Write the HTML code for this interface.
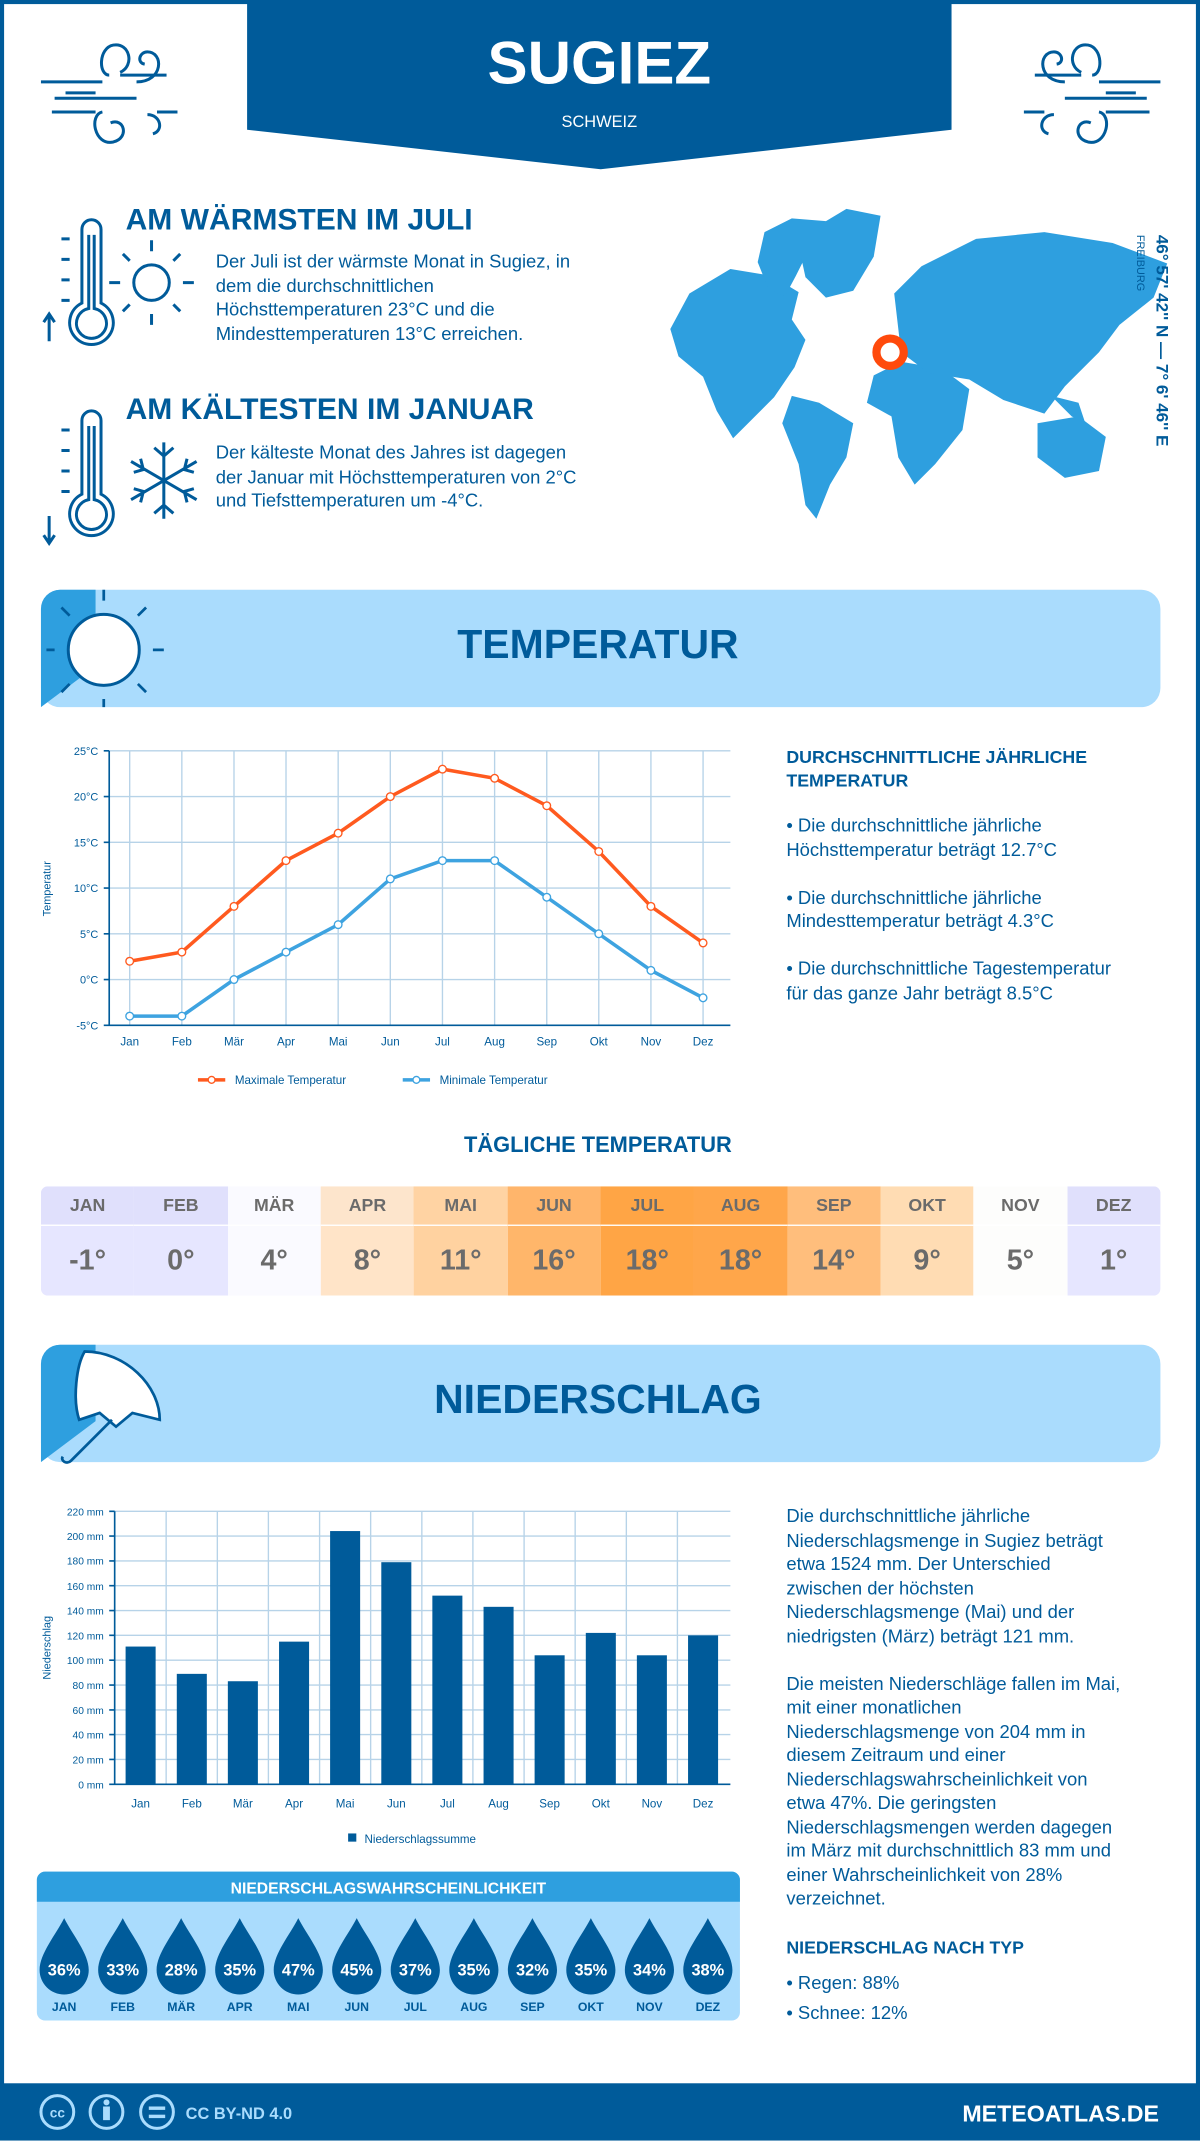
<!DOCTYPE html>
<html><head><meta charset="utf-8"><style>
html,body{margin:0;padding:0;background:#fff;}
body{width:1200px;height:2140px;overflow:hidden;position:relative;}
#w{position:absolute;left:0;top:0;width:879px;height:1568px;transform:scale(1.36519);transform-origin:0 0;font-family:"Liberation Sans",sans-serif;color:#005b9a;}
.a{position:absolute;}
.t{font-size:13.5px;line-height:17.5px;color:#005b9a;white-space:nowrap;}
</style></head><body><div id="w">
<svg class="a" style="left:0;top:0" width="879" height="1568" viewBox="0 0 879 1568">
<rect x="1.5" y="1.5" width="876" height="1565" fill="none" stroke="#005b9a" stroke-width="3"/>
<polygon points="181,0 697,0 697,95 440,124 181,95" fill="#005b9a"/>
<g fill="none" stroke="#005b9a" stroke-width="2.2">
<path d="M40,72 H100 M30,60 H75 M48,68 H70 M88,55 H122 M38,82 H70 M115,82 H130"/>
<path d="M80,55 c-8,0 -8,-20 3,-22 c12,-2 16,15 5,20"/>
<path d="M100,60 c20,0 20,-22 8,-22 c-6,0 -8,8 -2,9"/>
<path d="M75,82 c-10,2 -6,25 8,22 c12,-3 8,-18 -2,-14"/>
<path d="M108,84 c10,0 12,12 4,14"/>
<path d="M840,72 H780 M850,60 H805 M832,68 H810 M792,55 H758 M842,82 H810 M765,82 H750"/>
<path d="M800,55 c8,0 8,-20 -3,-22 c-12,-2 -16,15 -5,20"/>
<path d="M780,60 c-20,0 -20,-22 -8,-22 c6,0 8,8 2,9"/>
<path d="M805,82 c10,2 6,25 -8,22 c-12,-3 -8,-18 2,-14"/>
<path d="M772,84 c-10,0 -12,12 -4,14"/>
<path d="M60,168 a7,7 0 0 1 14,0 v54 a16,16 0 1 1 -14,0 z"/>
<path d="M65,172 v54 a11,11 0 1 0 4,0 v-54"/>
<path d="M45,175 h6 M45,190 h6 M45,205 h6 M45,220 h6 M36,230 v20 M32,236 l4,-6 4,6"/>
<circle cx="111" cy="207" r="13"/>
<path d="M111,184 v-8 M111,230 v8 M88,207 h-8 M134,207 h8 M95,191 l-5,-5 M127,191 l5,-5 M95,223 l-5,5 M127,223 l5,5"/>
<path d="M60,308 a7,7 0 0 1 14,0 v54 a16,16 0 1 1 -14,0 z"/>
<path d="M65,312 v54 a11,11 0 1 0 4,0 v-54"/>
<path d="M45,315 h6 M45,330 h6 M45,345 h6 M45,360 h6 M36,378 v20 M32,392 l4,6 4,-6"/>
<path d="M120,324 v56 M96,338 l48,28 M96,366 l48,-28 M113,328 l7,6 7,-6 M113,376 l7,-6 7,6 M98,346 l7,-2 -2,-8 M142,346 l-7,-2 2,-8 M98,358 l7,2 -2,8 M142,358 l-7,2 2,8"/>
</g>
<g fill="#2e9fdf">
<path d="M505,215 l30,-18 30,5 20,12 -5,20 10,15 -8,20 -15,22 -20,20 -10,10 -12,-20 -10,-25 -18,-15 -6,-20z"/>
<path d="M560,170 l20,-10 25,2 -12,20 -10,20 -8,15 -12,-5 -8,-20z"/>
<path d="M585,180 l15,-15 20,-12 25,5 -5,30 -15,25 -20,5 -15,-15z"/>
<path d="M580,290 l20,5 25,15 -5,25 -12,20 -10,25 -8,-10 -5,-30 -12,-30z"/>
<path d="M640,275 l20,-10 30,5 20,15 -5,30 -20,25 -15,15 -12,-20 -5,-30 -18,-10z"/>
<path d="M655,215 l20,-20 40,-20 50,-5 50,8 40,15 -10,25 -25,20 -15,20 -25,25 -15,20 -30,-10 -25,-15 -30,-5 -20,-15z"/>
<path d="M760,310 l30,-5 20,15 -5,25 -25,5 -20,-15z"/>
<path d="M770,290 l20,5 5,15 -10,-5z"/>
</g>
<circle cx="652" cy="258" r="10" fill="#fff" stroke="#ff4a0c" stroke-width="6"/>
<rect x="30" y="432" width="820" height="86" rx="14" fill="#aadcfd"/>
<path d="M30,446 a14,14 0 0 1 14,-14 h26 v56 l-40,30z" fill="#2e9fdf"/>
<circle cx="76" cy="476" r="26" fill="#fff" stroke="#005b9a" stroke-width="2.2"/>
<g stroke="#005b9a" stroke-width="2"><path d="M76,440 v-8 M112,476 h8 M101,451 l6,-6 M101,501 l6,6 M76,512 v6 M40,476 h-6 M51,451 l-6,-6 M51,501 l-6,6"/></g>
<rect x="30" y="985" width="820" height="86" rx="14" fill="#aadcfd"/>
<path d="M30,999 a14,14 0 0 1 14,-14 h26 v56 l-40,30z" fill="#2e9fdf"/>
<path d="M62,990 c30,0 55,25 55,50 l-20,-5 -12,10 -12,-10 -15,5 c-5,-15 -2,-40 4,-50z" fill="#fff" stroke="#005b9a" stroke-width="2"/>
<path d="M82,1040 l-30,30 c-3,3 -8,0 -6,-3" fill="none" stroke="#005b9a" stroke-width="2"/>
<g stroke="#b7d3e8" stroke-width="1">
<path d="M80,550H535M80,583.5H535M80,617H535M80,650.5H535M80,684H535M80,717.5H535"/>
<path d="M95,550V751M133.2,550V751M171.4,550V751M209.5,550V751M247.7,550V751M285.9,550V751M324.1,550V751M362.3,550V751M400.5,550V751M438.6,550V751M476.8,550V751M515,550V751"/>
</g>
<path d="M80,550V751H535 M76,550h4M76,583.5h4M76,617h4M76,650.5h4M76,684h4M76,717.5h4M76,751h4" stroke="#005b9a" stroke-width="1.2" fill="none"/>
<g font-size="8" fill="#005b9a" text-anchor="end">
<text x="72" y="553">25°C</text><text x="72" y="586.5">20°C</text><text x="72" y="620">15°C</text><text x="72" y="653.5">10°C</text><text x="72" y="687">5°C</text><text x="72" y="720.5">0°C</text><text x="72" y="754">-5°C</text>
</g>
<text transform="translate(37,651) rotate(-90)" font-size="8" fill="#005b9a" text-anchor="middle">Temperatur</text>
<g font-size="8.5" fill="#005b9a" text-anchor="middle">
<text x="95" y="766">Jan</text><text x="133.2" y="766">Feb</text><text x="171.4" y="766">Mär</text><text x="209.5" y="766">Apr</text><text x="247.7" y="766">Mai</text><text x="285.9" y="766">Jun</text><text x="324.1" y="766">Jul</text><text x="362.3" y="766">Aug</text><text x="400.5" y="766">Sep</text><text x="438.6" y="766">Okt</text><text x="476.8" y="766">Nov</text><text x="515" y="766">Dez</text>
</g>
<polyline points="95,704.1 133.2,697.4 171.4,663.9 209.5,630.4 247.7,610.3 285.9,583.5 324.1,563.4 362.3,570.1 400.5,590.2 438.6,623.7 476.8,663.9 515,690.7" fill="none" stroke="#ff5a1f" stroke-width="2.6"/>
<polyline points="95,744.3 133.2,744.3 171.4,717.5 209.5,697.4 247.7,677.3 285.9,643.8 324.1,630.4 362.3,630.4 400.5,657.2 438.6,684 476.8,710.8 515,730.9" fill="none" stroke="#3ea3e0" stroke-width="2.6"/>
<g fill="#fff" stroke="#ff5a1f" stroke-width="1">
<circle cx="95" cy="704.1" r="2.8"/><circle cx="133.2" cy="697.4" r="2.8"/><circle cx="171.4" cy="663.9" r="2.8"/><circle cx="209.5" cy="630.4" r="2.8"/><circle cx="247.7" cy="610.3" r="2.8"/><circle cx="285.9" cy="583.5" r="2.8"/><circle cx="324.1" cy="563.4" r="2.8"/><circle cx="362.3" cy="570.1" r="2.8"/><circle cx="400.5" cy="590.2" r="2.8"/><circle cx="438.6" cy="623.7" r="2.8"/><circle cx="476.8" cy="663.9" r="2.8"/><circle cx="515" cy="690.7" r="2.8"/>
</g>
<g fill="#fff" stroke="#3ea3e0" stroke-width="1">
<circle cx="95" cy="744.3" r="2.8"/><circle cx="133.2" cy="744.3" r="2.8"/><circle cx="171.4" cy="717.5" r="2.8"/><circle cx="209.5" cy="697.4" r="2.8"/><circle cx="247.7" cy="677.3" r="2.8"/><circle cx="285.9" cy="643.8" r="2.8"/><circle cx="324.1" cy="630.4" r="2.8"/><circle cx="362.3" cy="630.4" r="2.8"/><circle cx="400.5" cy="657.2" r="2.8"/><circle cx="438.6" cy="684" r="2.8"/><circle cx="476.8" cy="710.8" r="2.8"/><circle cx="515" cy="730.9" r="2.8"/>
</g>
<path d="M145,791h20" stroke="#ff5a1f" stroke-width="2.6"/><circle cx="155" cy="791" r="2.5" fill="#fff" stroke="#ff5a1f"/>
<text x="172" y="794" font-size="8.5" fill="#005b9a">Maximale Temperatur</text>
<path d="M295,791h20" stroke="#3ea3e0" stroke-width="2.6"/><circle cx="305" cy="791" r="2.5" fill="#fff" stroke="#3ea3e0"/>
<text x="322" y="794" font-size="8.5" fill="#005b9a">Minimale Temperatur</text>
<g stroke="#b7d3e8" stroke-width="1">
<path d="M84,1107H535M84,1125.2H535M84,1143.4H535M84,1161.5H535M84,1179.7H535M84,1197.9H535M84,1216.1H535M84,1234.3H535M84,1252.5H535M84,1270.6H535M84,1288.8H535"/>
<path d="M121.7,1107V1307M159.2,1107V1307M196.6,1107V1307M234.1,1107V1307M271.5,1107V1307M309,1107V1307M346.4,1107V1307M383.9,1107V1307M421.3,1107V1307M458.8,1107V1307M496.2,1107V1307"/>
</g>
<path d="M84,1107V1307H535M80,1107h4M80,1125.2h4M80,1143.4h4M80,1161.5h4M80,1179.7h4M80,1197.9h4M80,1216.1h4M80,1234.3h4M80,1252.5h4M80,1270.6h4M80,1288.8h4M80,1307h4" stroke="#005b9a" stroke-width="1.2" fill="none"/>
<g font-size="7.5" fill="#005b9a" text-anchor="end">
<text x="76" y="1110">220 mm</text><text x="76" y="1128">200 mm</text><text x="76" y="1146">180 mm</text><text x="76" y="1164.5">160 mm</text><text x="76" y="1182.7">140 mm</text><text x="76" y="1200.9">120 mm</text><text x="76" y="1219">100 mm</text><text x="76" y="1237.3">80 mm</text><text x="76" y="1255.5">60 mm</text><text x="76" y="1273.6">40 mm</text><text x="76" y="1291.8">20 mm</text><text x="76" y="1310">0 mm</text>
</g>
<text transform="translate(37,1207) rotate(-90)" font-size="8" fill="#005b9a" text-anchor="middle">Niederschlag</text>
<g fill="#005b9a">
<rect x="92" y="1206.1" width="22" height="100.9"/><rect x="129.5" y="1226.1" width="22" height="80.9"/><rect x="166.9" y="1231.5" width="22" height="75.5"/><rect x="204.4" y="1202.5" width="22" height="104.5"/><rect x="241.8" y="1121.5" width="22" height="185.5"/><rect x="279.3" y="1144.3" width="22" height="162.7"/><rect x="316.7" y="1168.8" width="22" height="138.2"/><rect x="354.2" y="1177" width="22" height="130"/><rect x="391.6" y="1212.5" width="22" height="94.5"/><rect x="429.1" y="1196.1" width="22" height="110.9"/><rect x="466.5" y="1212.5" width="22" height="94.5"/><rect x="504" y="1197.9" width="22" height="109.1"/>
</g>
<g font-size="8.5" fill="#005b9a" text-anchor="middle">
<text x="103" y="1324">Jan</text><text x="140.5" y="1324">Feb</text><text x="177.9" y="1324">Mär</text><text x="215.4" y="1324">Apr</text><text x="252.8" y="1324">Mai</text><text x="290.3" y="1324">Jun</text><text x="327.7" y="1324">Jul</text><text x="365.2" y="1324">Aug</text><text x="402.6" y="1324">Sep</text><text x="440.1" y="1324">Okt</text><text x="477.5" y="1324">Nov</text><text x="515" y="1324">Dez</text>
</g>
<rect x="255" y="1343" width="6" height="6" fill="#005b9a"/>
<text x="267" y="1350" font-size="8.5" fill="#005b9a">Niederschlagssumme</text>
<rect x="27" y="1371" width="515" height="109" rx="6" fill="#aadcfd"/>
<path d="M27,1393V1377a6,6 0 0 1 6,-6H536a6,6 0 0 1 6,6V1393z" fill="#2e9fdf"/>
<text x="284.5" y="1387" font-size="11.5" font-weight="bold" fill="#fff" text-anchor="middle">NIEDERSCHLAGSWAHRSCHEINLICHKEIT</text>
<defs><path id="d" d="M0,-26 C6,-14 18,0 18,12 A18,18 0 0 1 -18,12 C-18,0 -6,-14 0,-26z" fill="#005b9a"/></defs>
<g font-size="12" font-weight="bold" fill="#fff" text-anchor="middle">
<use href="#d" x="47" y="1431"/><use href="#d" x="89.9" y="1431"/><use href="#d" x="132.7" y="1431"/><use href="#d" x="175.6" y="1431"/><use href="#d" x="218.5" y="1431"/><use href="#d" x="261.3" y="1431"/><use href="#d" x="304.2" y="1431"/><use href="#d" x="347.1" y="1431"/><use href="#d" x="390" y="1431"/><use href="#d" x="432.8" y="1431"/><use href="#d" x="475.7" y="1431"/><use href="#d" x="518.5" y="1431"/>
<text x="47" y="1447">36%</text><text x="89.9" y="1447">33%</text><text x="132.7" y="1447">28%</text><text x="175.6" y="1447">35%</text><text x="218.5" y="1447">47%</text><text x="261.3" y="1447">45%</text><text x="304.2" y="1447">37%</text><text x="347.1" y="1447">35%</text><text x="390" y="1447">32%</text><text x="432.8" y="1447">35%</text><text x="475.7" y="1447">34%</text><text x="518.5" y="1447">38%</text>
</g>
<g font-size="9" font-weight="bold" fill="#005b9a" text-anchor="middle">
<text x="47" y="1473">JAN</text><text x="89.9" y="1473">FEB</text><text x="132.7" y="1473">MÄR</text><text x="175.6" y="1473">APR</text><text x="218.5" y="1473">MAI</text><text x="261.3" y="1473">JUN</text><text x="304.2" y="1473">JUL</text><text x="347.1" y="1473">AUG</text><text x="390" y="1473">SEP</text><text x="432.8" y="1473">OKT</text><text x="475.7" y="1473">NOV</text><text x="518.5" y="1473">DEZ</text>
</g>
<rect x="0" y="1526" width="879" height="42" fill="#005b9a"/>
<g fill="none" stroke="#aadcfd" stroke-width="2.2"><circle cx="42" cy="1547" r="12"/><circle cx="78" cy="1547" r="12"/><circle cx="115" cy="1547" r="12"/></g>
<text x="42" y="1551" font-size="10" font-weight="bold" fill="#aadcfd" text-anchor="middle">cc</text>
<circle cx="78" cy="1540" r="2.2" fill="#aadcfd"/><rect x="75.5" y="1543" width="5" height="10" fill="#aadcfd"/>
<rect x="109" y="1543" width="12" height="2.5" fill="#aadcfd"/><rect x="109" y="1549" width="12" height="2.5" fill="#aadcfd"/>
<text x="136" y="1552" font-size="12" font-weight="bold" fill="#aadcfd">CC BY-ND 4.0</text>
<text x="849" y="1554" font-size="17" font-weight="bold" fill="#fff" text-anchor="end">METEOATLAS.DE</text>
</svg>
<div class="a" style="left:181px;top:20px;width:516px;text-align:center;color:#fff;font-weight:bold;font-size:44px;line-height:54px;">SUGIEZ</div>
<div class="a" style="left:181px;top:82px;width:516px;text-align:center;color:#fff;font-size:12px;">SCHWEIZ</div>
<div class="a" style="left:92px;top:148px;font-size:22px;font-weight:bold;white-space:nowrap;">AM WÄRMSTEN IM JULI</div>
<div class="a t" style="left:158px;top:183px;">Der Juli ist der wärmste Monat in Sugiez, in<br>dem die durchschnittlichen<br>Höchsttemperaturen 23°C und die<br>Mindesttemperaturen 13°C erreichen.</div>
<div class="a" style="left:92px;top:287px;font-size:22px;font-weight:bold;white-space:nowrap;">AM KÄLTESTEN IM JANUAR</div>
<div class="a t" style="left:158px;top:323px;">Der kälteste Monat des Jahres ist dagegen<br>der Januar mit Höchsttemperaturen von 2°C<br>und Tiefsttemperaturen um -4°C.</div>
<div class="a" style="left:858px;top:172px;transform-origin:0 0;transform:rotate(90deg);font-size:12.5px;font-weight:bold;white-space:nowrap;">46° 57' 42'' N — 7° 6' 46'' E</div>
<div class="a" style="left:840px;top:172px;transform-origin:0 0;transform:rotate(90deg);font-size:8px;white-space:nowrap;">FREIBURG</div>
<div class="a" style="left:180px;top:456px;width:516px;text-align:center;font-size:30px;font-weight:bold;">TEMPERATUR</div>
<div class="a" style="left:180px;top:1009px;width:516px;text-align:center;font-size:30px;font-weight:bold;">NIEDERSCHLAG</div>
<div class="a" style="left:576px;top:546px;width:270px;font-size:13px;font-weight:bold;line-height:17px;">DURCHSCHNITTLICHE JÄHRLICHE TEMPERATUR</div>
<div class="a t" style="left:576px;top:596px;">• Die durchschnittliche jährliche<br>Höchsttemperatur beträgt 12.7°C<br><br>• Die durchschnittliche jährliche<br>Mindesttemperatur beträgt 4.3°C<br><br>• Die durchschnittliche Tagestemperatur<br>für das ganze Jahr beträgt 8.5°C</div>
<div class="a" style="left:180px;top:831px;width:516px;text-align:center;font-size:16px;font-weight:bold;">TÄGLICHE TEMPERATUR</div>
<div class="a" style="left:30px;top:869px;width:820px;height:80px;display:flex;border-radius:5px;overflow:hidden;font-weight:bold;color:#6b6b6b;text-align:center;">
<div style="flex:1;background:#e6e6ff"><div style="height:28px;line-height:28px;font-size:13px;background:#e0e0fc;border-bottom:1px solid #fff">JAN</div><div style="line-height:51px;font-size:21px">-1°</div></div>
<div style="flex:1;background:#e6e6ff"><div style="height:28px;line-height:28px;font-size:13px;background:#e0e0fc;border-bottom:1px solid #fff">FEB</div><div style="line-height:51px;font-size:21px">0°</div></div>
<div style="flex:1;background:#fafaff"><div style="height:28px;line-height:28px;font-size:13px;background:#fafaff;border-bottom:1px solid #fff">MÄR</div><div style="line-height:51px;font-size:21px">4°</div></div>
<div style="flex:1;background:#ffe4c8"><div style="height:28px;line-height:28px;font-size:13px;background:#fde5cc;border-bottom:1px solid #fff">APR</div><div style="line-height:51px;font-size:21px">8°</div></div>
<div style="flex:1;background:#ffd2a0"><div style="height:28px;line-height:28px;font-size:13px;background:#ffd3a3;border-bottom:1px solid #fff">MAI</div><div style="line-height:51px;font-size:21px">11°</div></div>
<div style="flex:1;background:#ffb66a"><div style="height:28px;line-height:28px;font-size:13px;background:#ffb56b;border-bottom:1px solid #fff">JUN</div><div style="line-height:51px;font-size:21px">16°</div></div>
<div style="flex:1;background:#ffa545"><div style="height:28px;line-height:28px;font-size:13px;background:#ffa545;border-bottom:1px solid #fff">JUL</div><div style="line-height:51px;font-size:21px">18°</div></div>
<div style="flex:1;background:#ffa64a"><div style="height:28px;line-height:28px;font-size:13px;background:#ffa64a;border-bottom:1px solid #fff">AUG</div><div style="line-height:51px;font-size:21px">18°</div></div>
<div style="flex:1;background:#ffbe7c"><div style="height:28px;line-height:28px;font-size:13px;background:#ffbe7c;border-bottom:1px solid #fff">SEP</div><div style="line-height:51px;font-size:21px">14°</div></div>
<div style="flex:1;background:#ffdcb3"><div style="height:28px;line-height:28px;font-size:13px;background:#ffdcb3;border-bottom:1px solid #fff">OKT</div><div style="line-height:51px;font-size:21px">9°</div></div>
<div style="flex:1;background:#fdfdfc"><div style="height:28px;line-height:28px;font-size:13px;background:#fdfdfc;border-bottom:1px solid #fff">NOV</div><div style="line-height:51px;font-size:21px">5°</div></div>
<div style="flex:1;background:#e6e6ff"><div style="height:28px;line-height:28px;font-size:13px;background:#e0e0fc;border-bottom:1px solid #fff">DEZ</div><div style="line-height:51px;font-size:21px">1°</div></div>
</div>
<div class="a t" style="left:576px;top:1102px;">Die durchschnittliche jährliche<br>Niederschlagsmenge in Sugiez beträgt<br>etwa 1524 mm. Der Unterschied<br>zwischen der höchsten<br>Niederschlagsmenge (Mai) und der<br>niedrigsten (März) beträgt 121 mm.<br><br>Die meisten Niederschläge fallen im Mai,<br>mit einer monatlichen<br>Niederschlagsmenge von 204 mm in<br>diesem Zeitraum und einer<br>Niederschlagswahrscheinlichkeit von<br>etwa 47%. Die geringsten<br>Niederschlagsmengen werden dagegen<br>im März mit durchschnittlich 83 mm und<br>einer Wahrscheinlichkeit von 28%<br>verzeichnet.</div>
<div class="a" style="left:576px;top:1419px;font-size:13px;font-weight:bold;">NIEDERSCHLAG NACH TYP</div>
<div class="a t" style="left:576px;top:1442px;line-height:22px;">• Regen: 88%<br>• Schnee: 12%</div>
</div></body></html>
